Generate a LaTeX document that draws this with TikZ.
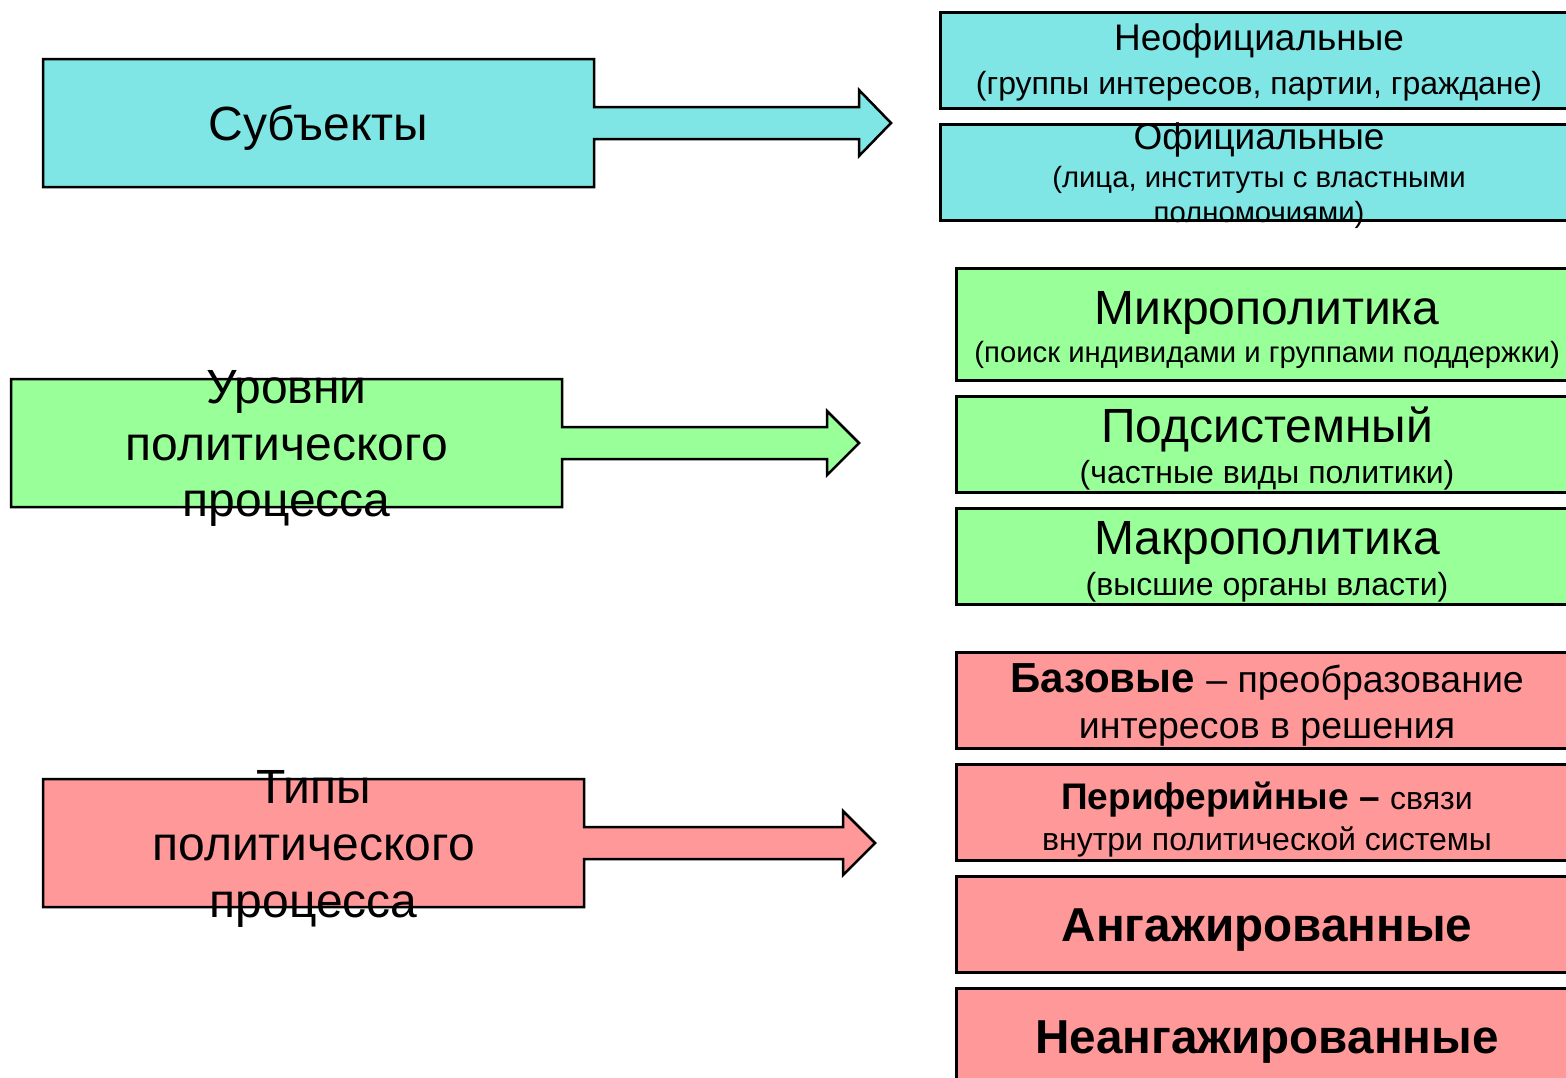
\documentclass[tikz,border=0pt]{standalone}
\usepackage{fontspec}
\setmainfont{Liberation Sans}
\definecolor{cyanfill}{RGB}{128,229,229}
\definecolor{greenfill}{RGB}{153,255,153}
\definecolor{redfill}{RGB}{255,153,153}
\newcommand{\fs}[1]{\fontsize{#1}{#1}\selectfont}
\begin{document}
\begin{tikzpicture}[x=1pt,y=-1pt,
  outl/.style={draw=black,line width=2.5pt,line join=miter},
  rbox/.style={outl,rectangle,anchor=north west,minimum width=640pt,minimum height=96pt,inner sep=0pt},
  txt/.style={anchor=base,inner sep=0pt,text=black}]
\useasboundingbox (0,0) rectangle (1566,1077);
\clip (0,0) rectangle (1566,1077);
\fill[white] (0,0) rectangle (1566,1077);

% ---------- left block arrows ----------
\filldraw[outl,fill=cyanfill] (43,59) -- (594,59) -- (594,107) -- (859,107) -- (859,90) -- (891,123) -- (859,156) -- (859,139) -- (594,139) -- (594,187) -- (43,187) -- cycle;
\node[txt] (subj) at (318.5,140) {\fs{48}Субъекты};

\filldraw[outl,fill=greenfill] (11,379) -- (562,379) -- (562,427) -- (827,427) -- (827,411) -- (859,443) -- (827,475) -- (827,459) -- (562,459) -- (562,507) -- (11,507) -- cycle;
\node[txt] (lev1) at (286.5,403) {\fs{48}Уровни};
\node[txt] (lev2) at (286.5,460) {\fs{48}политического};
\node[txt] (lev3) at (286.5,516) {\fs{48}процесса};

\filldraw[outl,fill=redfill] (43,779) -- (584,779) -- (584,827) -- (843,827) -- (843,811) -- (875,843) -- (843,875) -- (843,859) -- (584,859) -- (584,907) -- (43,907) -- cycle;
\node[txt] (typ1) at (313.5,803) {\fs{48}Типы};
\node[txt] (typ2) at (313.5,860) {\fs{48}политического};
\node[txt] (typ3) at (313.5,917) {\fs{48}процесса};

% ---------- right boxes: cyan ----------
\node[rbox,fill=cyanfill] (neof) at (939,11) {};
\node[txt] (neof1) at (1259,50) {\fs{37}Неофициальные};
\node[txt] (neof2) at (1259,94) {\fs{32}(группы интересов, партии, граждане)};

\node[rbox,fill=cyanfill] (ofic) at (939,123) {};
\node[txt] (ofic1) at (1259,149) {\fs{37}Официальные};
\node[txt] (ofic2) at (1259,187) {\fs{29.3}(лица, институты с властными};
\node[txt] (ofic3) at (1259,222) {\fs{29.3}полномочиями)};

% ---------- right boxes: green ----------
\node[rbox,fill=greenfill,minimum height=112pt] (micro) at (955,267) {};
\node[txt] (micro1) at (1267,324) {\fs{48}Микрополитика};
\node[txt] (micro2) at (1267,362) {\fs{29.3}(поиск индивидами и группами поддержки)};

\node[rbox,fill=greenfill] (podsys) at (955,395) {};
\node[txt] (podsys1) at (1267,442) {\fs{48}Подсистемный};
\node[txt] (podsys2) at (1267,483) {\fs{32}(частные виды политики)};

\node[rbox,fill=greenfill] (macro) at (955,507) {};
\node[txt] (macro1) at (1267,554) {\fs{48}Макрополитика};
\node[txt] (macro2) at (1267,595) {\fs{32}(высшие органы власти)};

% ---------- right boxes: red ----------
\node[rbox,fill=redfill] (baz) at (955,651) {};
\node[txt] (baz1) at (1267,692) {\fs{42}\textbf{Базовые} \fs{37.5}– преобразование};
\node[txt] (baz2) at (1267,738) {\fs{37.5}интересов в решения};

\node[rbox,fill=redfill] (per) at (955,763) {};
\node[txt] (per1) at (1267,809) {\fs{37}\textbf{Периферийные –} \fs{32}связи};
\node[txt] (per2) at (1267,850) {\fs{32}внутри политической системы};

\node[rbox,fill=redfill] (ang) at (955,875) {};
\node[txt] (ang1) at (1267,941) {\fs{47.6}\textbf{Ангажированные}};

\node[rbox,fill=redfill] (neang) at (955,987) {};
\node[txt] (neang1) at (1267,1053) {\fs{47.6}\textbf{Неангажированные}};
\end{tikzpicture}
\end{document}
